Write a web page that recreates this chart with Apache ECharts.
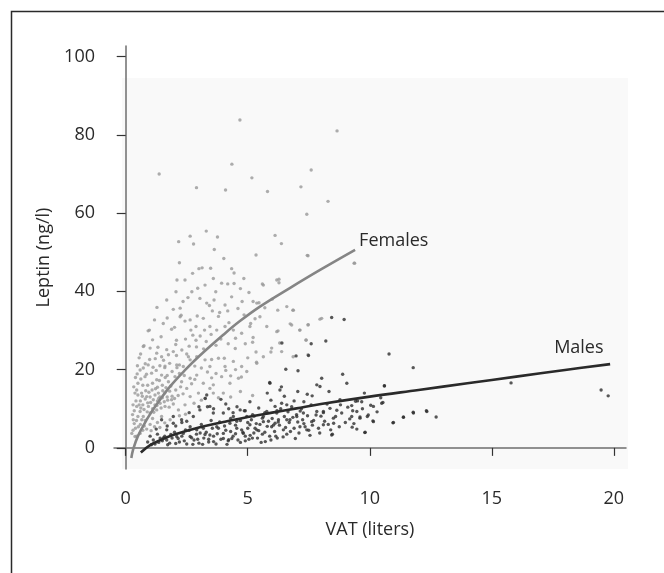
<!DOCTYPE html>
<html>
<head>
<meta charset="utf-8">
<script src="https://cdn.jsdelivr.net/npm/echarts@6/dist/echarts.min.js"></script>
<style>
  html, body { margin: 0; padding: 0; background: #fff; }
  #chart { width: 664px; height: 573px; }
</style>
</head>
<body>
<div id="chart"></div>
<script>
// VAT (liters), leptin (ng/l)
var females = [
  [4.68,83.8],[8.66,81.0],[4.35,72.5],[1.37,70.0],[7.6,71.0],[5.17,69.0],[2.9,66.5],[4.09,65.9],
  [7.18,66.7],[5.81,65.5],[8.29,63.0],[7.42,59.7],[3.3,55.4],[6.12,54.3],[2.64,54.1],[3.76,53.9],
  [2.17,52.7],[6.38,52.2],[2.78,52.1],[3.63,50.7],[5.34,49.3],[7.44,49.2],[9.38,47.2],[2.2,47.3],
  [4.02,48.4],[3.0,45.8],[3.13,46.0],[3.48,45.9],[2.74,44.6],[4.34,45.8],[4.44,44.7],[4.84,43.3],
  [6.28,43.1],[6.28,42.2],[2.1,42.9],[2.43,42.9],[3.59,43.3],[3.93,42.1],[4.18,41.9],[4.44,42.0],
  [5.6,41.9],[2.06,39.9],[2.71,39.9],[3.69,39.9],[4.7,40.7],[5.05,39.7],[6.0,38.0],[1.68,37.8],
  [3.04,38.2],[4.34,38.6],[5.22,37.4],[5.46,37.1],[1.28,35.9],[1.95,35.4],[3.43,36.4],[6.23,35.2],
  [6.85,35.2],[4.18,35.0],[2.23,35.7],[3.32,37.0],[3.62,37.8],[4.07,36.5],[4.77,37.4],[5.37,37.0],
  [5.64,41.6],[6.19,42.9],[6.6,36.1],[2.27,33.9],[2.93,33.7],[3.8,33.6],[1.18,32.7],[2.43,32.4],
  [4.23,32.0],[5.12,31.8],[6.74,31.7],[7.48,31.5],[8.03,33.1],[0.92,29.9],[2.67,30.1],[3.23,30.1],
  [6.24,29.9],[7.13,30.1],[4.75,29.3],[5.22,28.2],[2.08,27.5],[2.88,27.5],[6.31,26.8],[7.39,27.5],
  [0.97,30.1],[1.54,31.8],[1.88,30.3],[2.23,33.5],[2.64,32.7],[2.88,31.0],[3.18,33.1],[3.45,31.0],
  [3.73,30.1],[4.07,31.0],[4.41,30.1],[5.09,31.0],[5.5,33.5],[5.78,31.0],[6.19,29.7],
  [0.75,26.1],[1.32,25.7],[1.68,25.1],[3.19,25.3],[4.49,25.4],[5.34,24.5],[5.95,24.5],[0.61,24.0],
  [1.21,22.8],[2.08,23.6],[2.57,23.3],[3.52,22.6],[4.04,22.9],[5.36,21.9],[0.92,21.2],[1.61,20.9],
  [2.2,21.2],[2.83,20.9],[0.47,18.9],[4.3,18.4],[4.74,18.1],[2.83,17.5],[3.52,17.9],
  [0.72,25.9],[1.0,25.5],[1.27,24.2],[1.47,23.3],[1.75,23.8],[2.09,21.2],[2.36,20.8],[2.64,22.5],
  [2.91,23.3],[3.25,22.5],[3.45,20.8],[3.8,22.9],[4.07,20.8],[4.41,22.1],[4.75,20.8],[4.96,19.5],
  [5.37,21.6],[5.64,23.3],[5.98,25.5],[6.39,24.6],[0.59,19.9],[0.79,18.2],[1.06,19.1],[1.27,17.4],
  [1.47,18.6],[1.75,16.9],[2.02,18.2],[2.29,16.9],[2.64,17.8],[2.91,18.6],[3.18,16.5],[3.59,16.1],
  [3.93,18.2],[4.27,16.5],[4.62,17.8],[0.45,14.8],[0.65,14.0],[0.86,13.1],[1.13,12.3],[1.34,14.0],
  [1.61,10.6],[1.88,12.3],[2.16,9.7],[2.43,11.0],[2.64,13.1],[2.98,14.0],[3.25,12.7],[3.59,14.0],
  [4.0,14.0],[0.45,10.6],[0.59,9.3],[0.72,8.0],[1.0,8.9],[1.27,9.7],[1.47,8.0],[1.82,7.2],
  [0.31,7.2],[0.52,5.4],[0.25,3.7],[0.38,2.9],[0.59,3.7],[0.93,10.6],[1.2,11.0],[1.41,11.4],
  [0.6,12.0],[0.7,11.0],[0.8,12.5],[0.9,11.5],[1.0,13.0],[1.1,10.0],[1.2,13.5],[1.3,12.0],
  [1.4,13.0],[1.5,12.8],[1.6,14.0],[1.7,13.0],[1.8,14.5],[1.9,13.2],[2.0,12.6],[0.5,8.0],
  [0.6,6.0],[0.7,4.5],[0.4,5.0],[0.45,3.0],[0.3,4.5],[0.35,6.2],[0.8,7.0],[1.0,6.0],
  [1.1,7.5],[1.3,6.5],[0.9,16.0],[1.1,16.5],[1.3,15.5],[1.5,16.0],[1.7,18.5],[1.9,19.5],
  [2.1,20.5],[2.2,19.0],[2.4,18.5],[1.6,20.5],[1.4,21.0],[0.5,16.5],[0.7,16.0],[0.4,18.0],
  [0.55,23.0],[0.8,21.5],[6.87,35.2],[6.8,31.4],[7.47,31.4],[7.14,30.1],[7.96,32.9],[7.39,27.6],
  [7.47,23.8],[7.47,49.1],[9.36,47.2],[6.86,23.3],
  [0.35,9.5],[0.42,12.0],[0.5,13.5],[0.55,11.0],[0.62,10.2],[0.68,13.2],[0.75,9.8],[0.82,14.6],
  [0.88,9.2],[0.95,14.2],[1.02,11.6],[1.08,14.8],[1.15,9.1],[1.22,15.1],[1.28,10.8],[1.35,12.6],
  [1.45,10.2],[1.52,14.6],[1.58,11.8],[1.65,15.4],[1.72,12.2],[1.78,10.4],[1.85,15.8],[1.95,11.2],
  [2.05,14.8],[2.15,13.4],[2.25,15.6],[2.35,13.8],[2.5,15.2],[2.7,16.4],[0.38,14.0],[0.48,21.0],
  [0.62,17.6],[0.72,20.4],[0.85,18.8],[0.98,22.6],[1.12,20.6],[1.25,19.8],[1.38,17.2],[1.55,22.4],
  [1.62,18.0],[1.8,21.6],[1.95,24.6],[2.05,26.4],[2.3,25.0],[2.45,27.8],[2.6,26.0],[2.75,28.8],
  [2.9,25.8],[3.05,28.6],[3.3,27.2],[3.5,29.0],[3.7,26.2],[3.9,27.8],[4.2,26.6],[4.5,28.0],
  [4.9,26.6],[5.2,27.0],[3.35,19.4],[3.7,19.0],[4.1,19.8],[4.5,20.0],[5.0,23.0],[3.1,20.4],
  [2.5,24.0],[1.1,27.6],[1.45,28.4],[1.7,33.2],[2.0,30.8],[2.35,37.4],[2.55,38.4],[2.95,40.8],
  [3.25,41.6],[3.55,35.0],[3.85,34.6],[4.6,35.6],[4.85,34.0],[5.3,33.0],[5.7,35.8],[0.3,11.0],
  [0.28,8.5],[0.33,15.6],[0.44,7.0],[0.66,7.2],[0.76,5.6],[0.86,4.8],[1.04,4.4],[1.18,5.4],
  [1.4,5.2],[1.6,6.4],[2.2,8.2],[2.45,8.6],[2.8,11.4],[3.1,12.2],[3.45,15.2],[3.8,12.8],
  [4.3,13.0],[4.7,14.4],[5.2,13.4]
];
var males = [
  [19.77,13.3],[19.48,14.8],[15.79,16.6],[10.79,24.0],[11.78,20.5],[10.6,15.9],[12.32,9.5],[12.72,7.9],
  [11.78,9.1],[11.38,7.9],[10.95,6.4],[10.13,6.9],[9.8,3.9],[8.95,32.8],[8.44,33.3],[8.2,27.3],
  [7.6,26.6],[6.98,23.5],[6.4,26.8],[6.56,20.1],[7.06,19.7],[7.49,23.6],[5.9,16.7],[6.38,15.6],
  [8.03,17.8],[8.89,18.8],[9.06,16.5],[7.96,15.7],[7.83,16.1],[7.44,13.7],[8.33,14.4],[9.78,14.0],
  [10.6,15.8],[10.04,10.9],[10.54,11.6],[9.42,11.9],[9.6,7.9],[9.18,7.4],[8.52,6.3],[8.47,3.5],
  [9.28,5.3],[8.0,8.1],[7.25,7.2],[6.73,7.2],[6.12,6.3],[5.72,1.6],[6.21,2.5],[5.19,2.5],
  [4.22,2.1],[3.26,12.6],[3.35,10.5],[4.22,10.0],[4.56,10.5],[4.86,9.5],[5.26,8.1],
  [7.05,14.4],[7.64,13.3],[8.78,12.3],[9.67,11.8],[10.49,11.4],[10.15,10.6],[9.26,10.8],[8.37,10.1],
  [8.1,9.3],[7.83,9.3],[9.47,9.3],[9.94,8.4],[7.28,8.9],[7.01,8.0],[6.6,7.2],[8.51,7.6],
  [8.85,8.9],[9.26,8.0],[9.6,7.6],[10.15,6.7],[10.97,6.5],[11.38,7.8],[11.79,8.9],[12.34,9.3],
  [7.62,6.7],[8.1,5.9],[7.14,5.4],[9.47,4.8],[9.81,4.0],[8.44,3.3],[7.42,4.6],
  [5.91,16.5],[6.32,14.8],[6.39,11.4],[6.12,10.6],[6.6,11.0],[5.09,11.8],[5.64,8.0],[3.32,13.5],
  [3.45,10.6],[2.64,5.4],[1.95,6.3],[1.41,2.5],[1.13,2.0],[1.68,2.0],[2.09,2.9],[2.36,3.7],
  [2.64,2.9],[2.91,4.6],[3.18,5.0],[3.45,3.3],[3.73,5.4],[4.0,3.7],[4.27,6.3],[4.55,5.0],
  [4.82,3.7],[5.09,5.9],[5.37,4.6],[5.64,6.7],[5.98,5.4],[6.26,7.2],[6.46,4.6],[1.95,8.0],
  [2.29,7.2],[1.68,4.6],[1.47,7.2],[4.0,8.9],[4.41,8.0],[4.69,9.7],[4.96,8.0],[2.77,8.0],
  [3.04,9.7],[3.59,8.9],[6.19,8.9],[5.78,9.3],
  [0.9,1.5],[1.0,3.0],[1.2,1.0],[1.3,3.5],[1.5,1.8],[1.6,3.0],[1.8,1.2],[1.9,2.5],
  [2.0,4.0],[2.2,1.5],[2.3,3.0],[2.5,1.0],[2.6,4.5],[2.8,2.0],[2.9,3.5],[3.0,1.2],
  [3.1,6.0],[3.2,2.5],[3.3,4.0],[3.4,1.5],[3.5,7.0],[3.6,3.0],[3.7,1.0],[3.8,5.0],
  [3.9,2.2],[4.1,4.5],[4.2,1.8],[4.3,7.5],[4.4,3.0],[4.5,5.8],[4.6,2.0],[4.7,7.0],
  [4.8,4.0],[4.9,1.8],[5.0,6.5],[5.1,3.2],[5.2,8.5],[5.3,5.0],[5.4,2.5],[5.5,6.0],
  [5.6,3.5],[5.7,9.0],[5.8,5.5],[5.9,3.0],[6.0,7.5],[6.1,4.2],[6.2,9.5],[6.3,5.8],
  [6.5,8.0],[6.6,3.5],[6.7,6.5],[6.8,10.5],[6.9,5.0],[7.0,8.5],[7.1,3.8],[7.2,10.0],
  [7.3,6.2],[7.5,4.5],[7.6,11.0],[7.7,7.0],[7.9,5.0],[8.1,9.0],[8.3,6.0],[8.6,8.0],
  [8.8,11.0],[9.0,6.5],[9.3,9.5],[9.5,12.0],[9.9,8.0],
  [2.3,6.5],[2.6,9.0],[3.0,10.5],[4.9,9.5],[5.8,14.0],[6.9,12.0],
  [1.05,0.8],[1.35,1.4],[1.55,2.6],[1.72,0.8],[1.85,3.4],[2.05,1.1],[2.15,2.4],[2.4,1.8],
  [2.45,4.6],[2.7,2.6],[2.75,0.9],[2.95,2.2],[3.05,3.8],[3.15,0.9],[3.25,3.4],[3.4,2.2],
  [3.55,5.0],[3.6,1.6],[3.75,3.6],[3.85,6.6],[4.0,2.4],[4.05,5.6],[4.15,0.9],[4.3,4.2],
  [4.35,2.4],[4.5,3.6],[4.55,6.8],[4.7,1.4],[4.75,4.6],[4.9,3.0],[5.0,5.0],[5.05,2.2],
  [5.15,7.2],[5.25,3.8],[5.35,6.2],[5.45,4.4],[5.55,1.4],[5.6,7.6],[5.7,4.0],[5.85,6.8],
  [5.95,2.0],[6.05,5.8],[6.15,3.0],[6.25,6.6],[6.35,10.0],[6.45,2.8],[6.55,5.2],[6.65,9.2],
  [6.75,4.2],[6.85,7.8],[6.95,2.4],[7.05,6.6],[7.15,9.4],[7.35,5.4],[7.45,8.2],[7.55,3.2],
  [7.65,5.8],[7.8,8.4],[7.95,3.8],[8.15,6.8],[8.25,11.2],[8.4,4.6],[8.65,9.6],[8.75,5.4],
  [9.1,10.4],[9.35,6.2],[9.7,10.0],[10.3,9.2],[10.45,12.8],[3.6,10.0],[4.1,11.2],[3.9,12.4],
  [4.4,9.0],[5.45,10.2],[5.95,12.2],[6.5,13.2],[7.3,11.8],[2.05,5.6],[2.5,6.8],[1.25,4.8],
  [1.7,5.6]
];
var femaleFit = [
  [0.23,-2.6],[0.3,-0.5],[0.5,3.0],[0.86,7.2],[1.2,10.5],[1.82,15.7],[2.5,20.3],[3.04,23.6],
  [4.0,28.9],[4.68,32.4],[5.5,36.1],[6.74,40.9],[8.0,45.6],[9.4,50.6]
];
var maleFit = [
  [0.62,-1.2],[1.0,0.7],[1.5,2.2],[2.0,3.4],[3.0,5.2],[4.0,6.6],[5.0,7.9],[6.0,9.0],
  [7.0,10.1],[8.0,11.2],[10.0,13.1],[12.0,14.8],[14.0,16.5],[16.0,18.2],[18.0,19.9],[19.85,21.4]
];
var xTicks = [0, 5, 10, 15, 20];
var yTicks = [0, 20, 40, 60, 80, 100];

var FONT = '"Open Sans", "Noto Sans", sans-serif';

var chart = echarts.init(document.getElementById('chart'));
chart.setOption({
  backgroundColor: '#fff',
  animation: false,
  graphic: [
    { type: 'rect', left: 9, top: 9, z: 100, silent: true,
      shape: { width: 700, height: 620 },
      style: { fill: 'none', stroke: '#2a2a2a', lineWidth: 1.5 } },
    { type: 'rect', left: 122, top: 78, z: -10, silent: true,
      shape: { width: 506, height: 391 },
      style: { fill: '#f9f9f9' } }
  ],
  grid: { left: 114, right: 38, top: 46, bottom: 104 },
  xAxis: {
    type: 'value', min: -0.48, max: 20.5,
    name: 'VAT (liters)', nameLocation: 'middle', nameGap: 52,
    nameTextStyle: { fontFamily: FONT, fontSize: 18, color: '#2a2a2a' },
    axisLine: { lineStyle: { color: '#6e6e6e', width: 1.5 } },
    axisTick: { show: true, length: 8, customValues: xTicks, lineStyle: { color: '#333', width: 1.2 } },
    axisLabel: { customValues: xTicks, margin: 21, fontFamily: FONT, fontSize: 18, color: '#2a2a2a' },
    splitLine: { show: false }
  },
  yAxis: {
    type: 'value', min: -5.4, max: 102.7,
    name: 'Leptin (ng/l)', nameLocation: 'middle', nameGap: 56,
    nameTextStyle: { fontFamily: FONT, fontSize: 18, color: '#2a2a2a' },
    axisLine: { show: true, lineStyle: { color: '#6e6e6e', width: 1.5 } },
    axisTick: { show: true, length: 9, customValues: yTicks, lineStyle: { color: '#333', width: 1.2 } },
    axisLabel: { customValues: yTicks, margin: 19, fontFamily: FONT, fontSize: 18, color: '#2a2a2a' },
    splitLine: { show: false }
  },
  series: [
    { name: 'Females', type: 'scatter', data: females, symbolSize: 3.4,
      itemStyle: { color: '#999999' } },
    { name: 'Males', type: 'scatter', data: males, symbolSize: 3.4,
      itemStyle: { color: '#2e2e2e' } },
    { name: 'Females fit', type: 'line', smooth: 0.4, showSymbol: false, symbol: 'none',
      data: femaleFit,
      lineStyle: { color: '#858585', width: 2.6 },
      endLabel: { show: true, formatter: 'Females', distance: 4, offset: [0, -9],
        fontFamily: FONT, fontSize: 18, color: '#2a2a2a' } },
    { name: 'Males fit', type: 'line', smooth: 0.4, showSymbol: false, symbol: 'none',
      data: maleFit,
      lineStyle: { color: '#2a2a2a', width: 2.6 },
      endLabel: { show: true, formatter: 'Males', distance: 4, offset: [-60, -16],
        fontFamily: FONT, fontSize: 18, color: '#2a2a2a' } }
  ]
});
</script>
</body>
</html>
